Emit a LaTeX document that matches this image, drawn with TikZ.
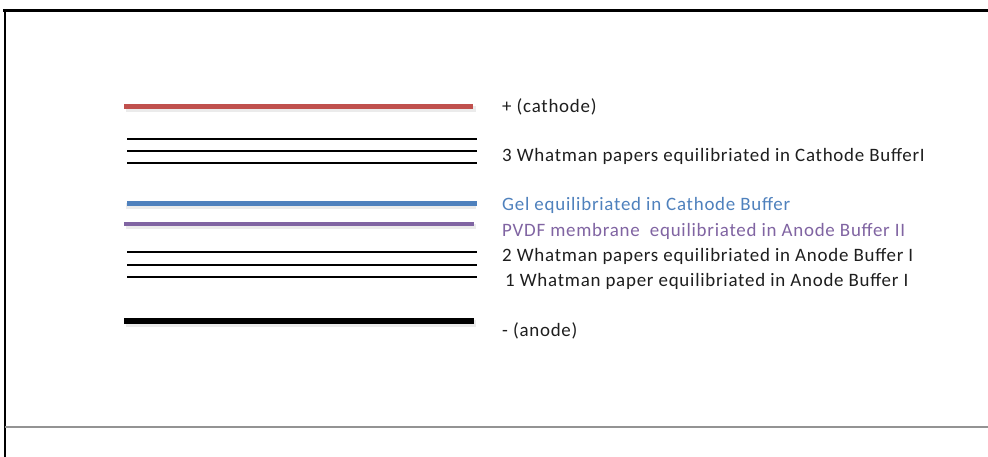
\documentclass[tikz,border=0pt]{standalone}
\usepackage{fontspec}
\setmainfont{Carlito}[LetterSpace=4]
\definecolor{cathodered}{RGB}{192,80,77}
\definecolor{gelblue}{RGB}{79,129,189}
\definecolor{pvdfpurple}{RGB}{128,100,162}
\definecolor{textblack}{RGB}{30,30,30}
\begin{document}
\begin{tikzpicture}[x=1bp,y=-1bp,
  layer/.style={line cap=butt},
  shadowline/.style={draw=black,opacity=0.08,line width=#1},
  paper/.style={draw=black,line width=1.6bp},
  label/.style={anchor=west,inner sep=0pt,font=\fontsize{19}{21}\selectfont,text=textblack}]
\useasboundingbox (0,0) rectangle (988,457);
\fill[white] (0,0) rectangle (988,457);

% frame
\draw[black,line width=3bp] (3,11) -- (988,11);
\draw[black,line width=2bp] (4.5,10) -- (4.5,457);
\draw[gray!85,line width=2bp] (5,427.5) -- (988,427.5);

% soft shadows under the electrode, gel and membrane bars
\foreach \y/\w in {106.5/6, 203.5/6, 224/5, 321/7}{
  \draw[shadowline=\w] (126,\y+2.2) -- (476,\y+2.2);
}

% stack layers, top to bottom
\draw[layer,cathodered,line width=4.5bp] (124,106.5) -- (473,106.5);
\foreach \y in {139,151,163}{ \draw[layer,paper] (127,\y) -- (477,\y); }
\draw[layer,gelblue,line width=5bp] (127,203.5) -- (477,203.5);
\draw[layer,pvdfpurple,line width=3.5bp] (124,224) -- (474,224);
\foreach \y in {252,265,277}{ \draw[layer,paper] (127,\y) -- (477,\y); }
\draw[layer,black,line width=6bp] (124,321) -- (474,321);

% labels
\node[label] (cath) at (502,107) {+ (cathode)};
\node[label] (w3) at (502,156.5) {3 Whatman papers equilibriated in Cathode BufferI};
\node[label,text=gelblue] (gel) at (502,205) {Gel equilibriated in Cathode Buffer};
\node[label,text=pvdfpurple] (pvdf) at (502,231) {PVDF membrane\ \ equilibriated in Anode Buffer II};
\node[label] (w2) at (502,256.5) {2 Whatman papers equilibriated in Anode Buffer I};
\node[label] (w1) at (505,281) {1 Whatman paper equilibriated in Anode Buffer I};
\node[label] (an) at (502,330.5) {- (anode)};
\end{tikzpicture}
\end{document}
